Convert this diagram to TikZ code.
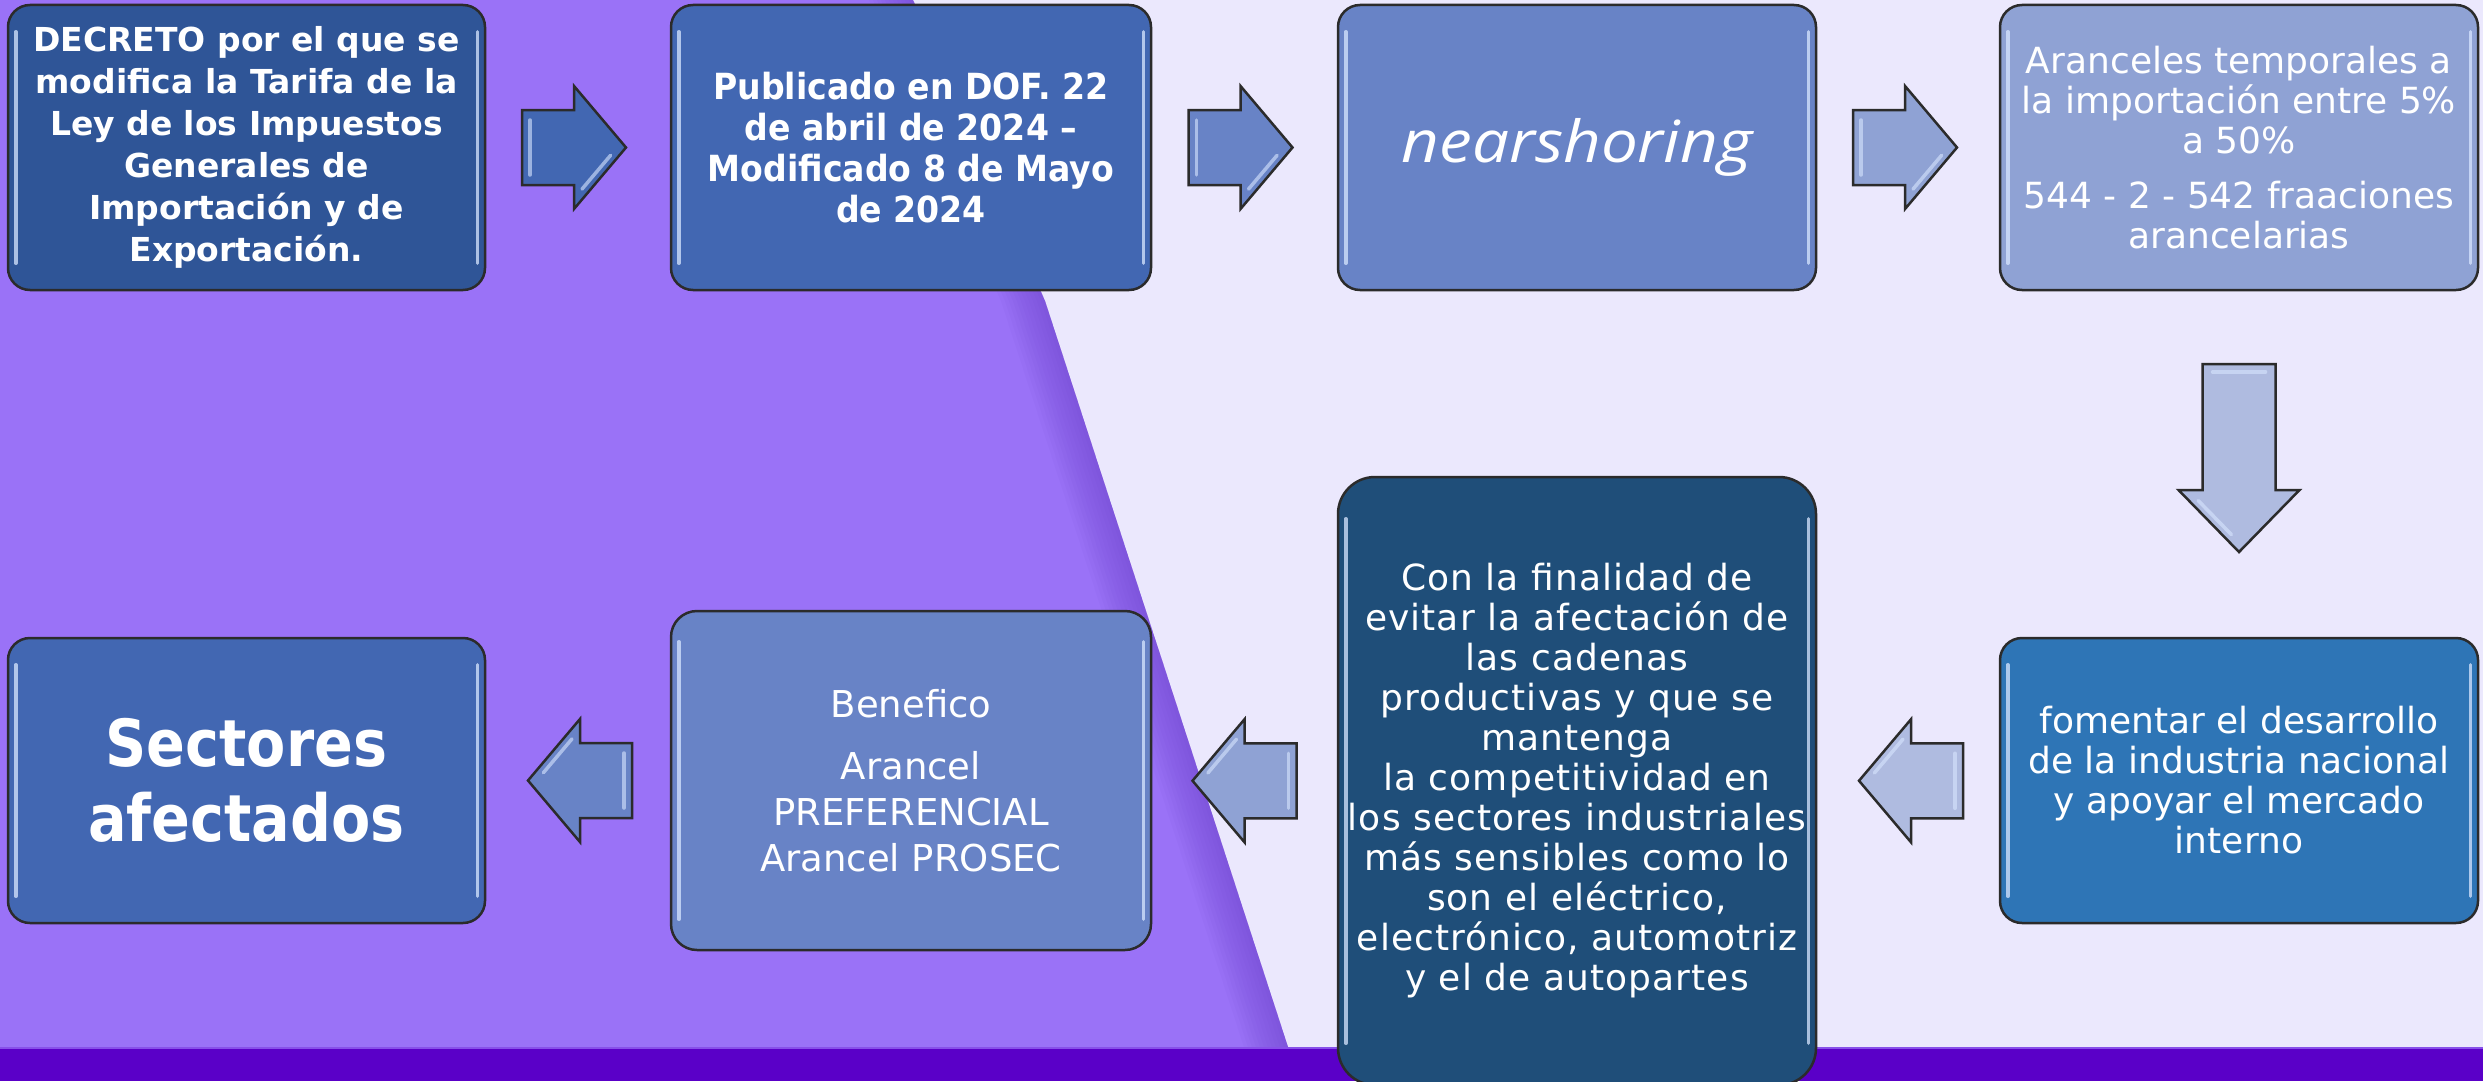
\documentclass[tikz,border=0pt]{standalone}
\usepackage{fontspec}
\usetikzlibrary{calc}
\newfontfamily\regf{DejaVu Sans}
\newfontfamily\spacef{DejaVu Sans}[LetterSpace=3]
\newfontfamily\boldf{DejaVu Sans}
\newfontfamily\boldnf{DejaVu Sans}[FakeStretch=0.92]
\newfontfamily\boldsf{DejaVu Sans}[FakeStretch=0.88]
\newfontfamily\widef{DejaVu Sans}
\newfontfamily\itf{Open Sans}[FakeStretch=1.13]
\definecolor{bgpurple}{HTML}{9A72F7}
\definecolor{bglav}{HTML}{EBE8FD}
\definecolor{barc}{HTML}{5A00C8}
\definecolor{shadowc}{HTML}{5A2DB8}
\definecolor{boxline}{HTML}{2B2B2B}
\definecolor{cA}{HTML}{2F5597}
\definecolor{cB}{HTML}{4267B2}
\definecolor{cC}{HTML}{6883C6}
\definecolor{cD}{HTML}{8FA2D4}
\definecolor{cE}{HTML}{2E75B6}
\definecolor{cF}{HTML}{1F4E79}
\definecolor{cG}{HTML}{AFBBE0}
\definecolor{hlc}{HTML}{D8E6FF}
\tikzset{
  gbox/.style={draw=boxline, line width=2.5pt, text=white, align=center, inner sep=0pt},
  hl/.style={draw=hlc, line width=3.5pt, line cap=round, opacity=0.75},
  arrline/.style={draw=boxline, line width=2.5pt, line join=miter},
}
% box gloss: #1 node name, #2 corner radius
\newcommand\gloss[2]{%
  \draw[hl] ([xshift=9,yshift=-#2-6]#1.north west) -- ([xshift=9,yshift=#2+6]#1.south west);
  \draw[hl] ([xshift=-9,yshift=-#2-6]#1.north east) -- ([xshift=-9,yshift=#2+6]#1.south east);
}
% block arrow: #1 name, #2 centre, #3 rotation, #4 length, #5 head length, #6 shaft half, #7 head half, #8 colour
\newcommand\barrow[8]{%
  \begin{scope}[shift={#2}, rotate=#3]
    \coordinate (#1) at (0,0);
    \draw[arrline, fill=#8] (-#4/2,-#6) -- (#4/2-#5,-#6) -- (#4/2-#5,-#7) -- (#4/2,0)
      -- (#4/2-#5,#7) -- (#4/2-#5,#6) -- (-#4/2,#6) -- cycle;
    \draw[hl, opacity=0.6] (-#4/2+8,-#6+10) -- (-#4/2+8,#6-10);
    \draw[hl, opacity=0.6] (#4/2-0.75*#5-5,0.75*#7-4.5) -- (#4/2-0.2*#5-5,0.2*#7-4.5);
  \end{scope}}
\begin{document}
\begin{tikzpicture}[x=1pt,y=-1pt]
\useasboundingbox (0,0) rectangle (2483,1081);
\fill[bglav] (0,0) rectangle (2483,1081);
\fill[bgpurple] (0,0) -- (913,0) -- (1045,301) -- (1288,1047) -- (0,1047) -- cycle;
\foreach \w in {4,8,...,44}{
  \fill[shadowc, opacity=0.04] (913-\w,0) -- (1045-\w,301) -- (1288-\w,1047)
     -- (1288,1047) -- (1045,301) -- (913,0) -- cycle;
}
\fill[barc] (0,1047) rectangle (2483,1081);
\draw[color=bgpurple!70!barc, line width=2pt] (0,1048) -- (2483,1048);

% boxes
\node[gbox, fill=cA, minimum width=477, minimum height=285, rounded corners=22,
      font={\boldf\bfseries\fontsize{33}{42}\selectfont}] (b1) at (246.5,147.5)
  {DECRETO por el que se\\ modifica la Tarifa de la\\ Ley de los Impuestos\\ Generales de\\ Importación y de\\ Exportación.};
\node[gbox, fill=cB, minimum width=480, minimum height=285, rounded corners=22,
      font={\boldnf\bfseries\fontsize{36}{41}\selectfont}] (b2) at (911,147.5)
  {Publicado en DOF. 22\\ de abril de 2024 –\\ Modificado 8 de Mayo\\ de 2024};
\node[gbox, fill=cC, minimum width=478, minimum height=285, rounded corners=22,
      font={\itf\itshape\fontsize{58}{64}\selectfont}] (b3) at (1577,147.5)
  {nearshoring};
\node[gbox, fill=cD, minimum width=478, minimum height=285, rounded corners=22,
      font={\regf\fontsize{36}{40}\selectfont}] (b4) at (2239,147.5)
  {Aranceles temporales a\\ la importación entre 5\%\\ a 50\%\\[15pt] 544 - 2 - 542 fraaciones\\ arancelarias};
\node[gbox, fill=cE, minimum width=478, minimum height=285, rounded corners=22,
      font={\regf\fontsize{36}{40}\selectfont}] (b5) at (2239,780.5)
  {fomentar el desarrollo\\ de la industria nacional\\ y apoyar el mercado\\ interno};
\node[gbox, fill=cF, minimum width=478, minimum height=608, rounded corners=37,
      font={\spacef\fontsize{36}{40}\selectfont}] (b6) at (1577,781)
  {Con la finalidad de\\ evitar la afectación de\\ las cadenas\\ productivas y que se\\ mantenga\\ la competitividad en\\ los sectores industriales\\ más sensibles como lo\\ son el eléctrico,\\ electrónico, automotriz\\ y el de autopartes};
\node[gbox, fill=cC, minimum width=480, minimum height=339, rounded corners=26,
      font={\widef\fontsize{37}{46}\selectfont}] (b7) at (911,780.5)
  {Benefico\\[16pt] Arancel\\ PREFERENCIAL\\ Arancel PROSEC};
\node[gbox, fill=cB, minimum width=477, minimum height=285, rounded corners=22,
      font={\boldsf\bfseries\fontsize{65}{75}\selectfont}] (b8) at (246.5,780.5)
  {Sectores\\ afectados};

\gloss{b1}{22}\gloss{b2}{22}\gloss{b3}{22}\gloss{b4}{22}
\gloss{b5}{22}\gloss{b6}{37}\gloss{b7}{26}\gloss{b8}{22}

% arrows
\barrow{a1}{($(b1.east)!.5!(b2.west)+(-4,0)$)}{0}{104}{52}{37.5}{61.5}{cB}
\barrow{a2}{($(b2.east)!.5!(b3.west)+(-4,0)$)}{0}{104}{52}{37.5}{61.5}{cC}
\barrow{a3}{($(b3.east)!.5!(b4.west)+(-3,0)$)}{0}{104}{52}{37.5}{61.5}{cD}
\barrow{a4}{($(b4.south)!.5!(b5.north)+(0,-6)$)}{-90}{188}{62}{36.5}{60.5}{cG}
\barrow{a5}{($(b6.east)!.5!(b5.west)+(3,0)$)}{180}{104}{52}{37.5}{61.5}{cG}
\barrow{a6}{($(b7.east)!.5!(b6.west)$)}{180}{104}{52}{37.5}{61.5}{cD}
\barrow{a7}{($(b8.east)!.5!(b7.west)+(2,0)$)}{180}{104}{52}{37.5}{61.5}{cC}
\end{tikzpicture}
\end{document}
